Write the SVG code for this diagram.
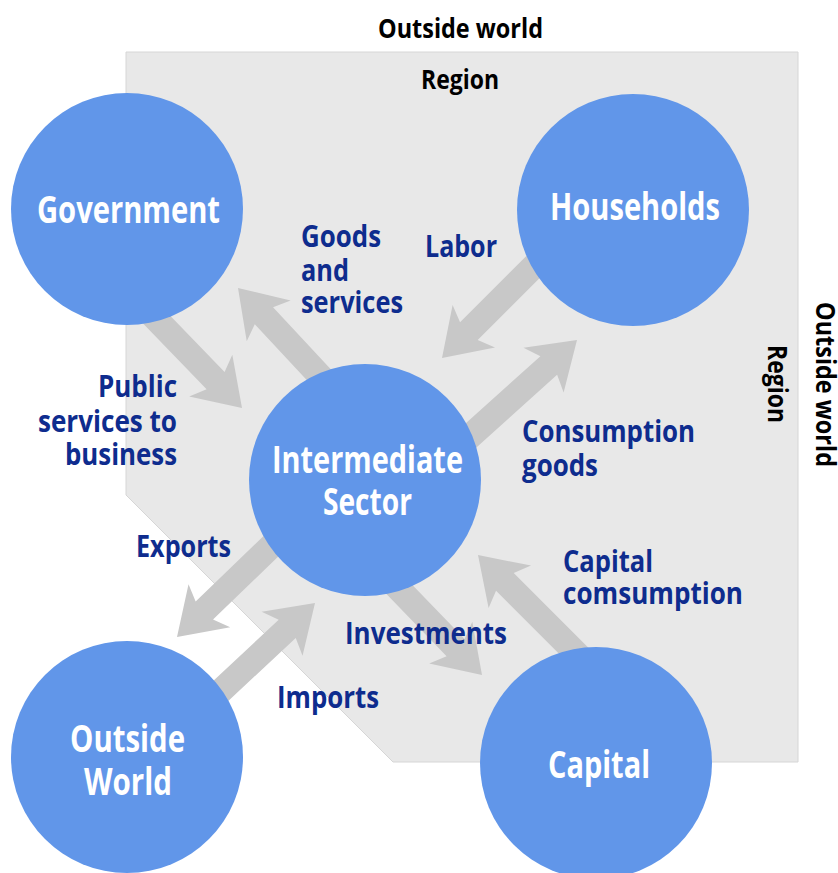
<svg xmlns="http://www.w3.org/2000/svg" width="838" height="873" viewBox="0 0 838 873">
<style>
.region{fill:#e8e8e8;stroke:#d6d6d6;stroke-width:1}
.arrow{fill:#c8c8c8}
.node{fill:#6196e9}
.nt{font-family:"Open Sans","Liberation Sans",sans-serif;font-weight:700;font-size:37px;fill:#ffffff}
.lb{font-family:"Open Sans","Liberation Sans",sans-serif;font-weight:700;font-size:30px;fill:#0e2c8e}
.hd{font-family:"Open Sans","Liberation Sans",sans-serif;font-weight:700;font-size:26px;fill:#000000}
</style>
<defs>
<polygon id="arr" points="0,0 -45,-30 -38,-12.5 -150,-12.5 -150,12.5 -38,12.5 -45,30"/>
</defs>
<rect x="0" y="0" width="838" height="873" fill="#ffffff"/>
<g id="region">
<polygon class="region" points="126,52 798,52 798,762 393,762 126,495"/>
<text class="hd" x="378" y="38" textLength="165" lengthAdjust="spacingAndGlyphs">Outside world</text>
<text class="hd" x="421" y="89" textLength="78" lengthAdjust="spacingAndGlyphs">Region</text>
<text class="hd" transform="translate(816,302) rotate(90)" x="0" y="0" textLength="165" lengthAdjust="spacingAndGlyphs">Outside world</text>
<text class="hd" transform="translate(768,345) rotate(90)" x="0" y="0" textLength="78" lengthAdjust="spacingAndGlyphs">Region</text>
</g>
<g id="connectors">
<use href="#arr" class="arrow" transform="translate(242,408) rotate(46)"/>
<use href="#arr" class="arrow" transform="translate(238,288) rotate(227)"/>
<use href="#arr" class="arrow" transform="translate(442,358) rotate(135)"/>
<use href="#arr" class="arrow" transform="translate(577,340) rotate(-42)"/>
<use href="#arr" class="arrow" transform="translate(177,637) rotate(136)"/>
<use href="#arr" class="arrow" transform="translate(315,603) rotate(-43)"/>
<use href="#arr" class="arrow" transform="translate(482,675) rotate(46)"/>
<use href="#arr" class="arrow" transform="translate(478,555) rotate(225)"/>
<text class="lb" x="301" y="247" textLength="80" lengthAdjust="spacingAndGlyphs">Goods</text>
<text class="lb" x="301" y="281" textLength="48" lengthAdjust="spacingAndGlyphs">and</text>
<text class="lb" x="301" y="313" textLength="102" lengthAdjust="spacingAndGlyphs">services</text>
<text class="lb" x="425" y="257" textLength="72" lengthAdjust="spacingAndGlyphs">Labor</text>
<text class="lb" x="98" y="397" textLength="79" lengthAdjust="spacingAndGlyphs">Public</text>
<text class="lb" x="38" y="432" textLength="139" lengthAdjust="spacingAndGlyphs">services to</text>
<text class="lb" x="65" y="465" textLength="112" lengthAdjust="spacingAndGlyphs">business</text>
<text class="lb" x="522" y="442" textLength="173" lengthAdjust="spacingAndGlyphs">Consumption</text>
<text class="lb" x="522" y="476" textLength="76" lengthAdjust="spacingAndGlyphs">goods</text>
<text class="lb" x="136" y="557" textLength="95" lengthAdjust="spacingAndGlyphs">Exports</text>
<text class="lb" x="277" y="708" textLength="102" lengthAdjust="spacingAndGlyphs">Imports</text>
<text class="lb" x="345" y="644" textLength="162" lengthAdjust="spacingAndGlyphs">Investments</text>
<text class="lb" x="563" y="572" textLength="90" lengthAdjust="spacingAndGlyphs">Capital</text>
<text class="lb" x="563" y="604" textLength="180" lengthAdjust="spacingAndGlyphs">comsumption</text>
</g>
<g id="government">
<circle class="node" cx="127" cy="209" r="116"/>
<text class="nt" x="37" y="223" textLength="183" lengthAdjust="spacingAndGlyphs">Government</text>
</g>
<g id="households">
<circle class="node" cx="633" cy="210" r="116"/>
<text class="nt" x="550" y="220" textLength="170" lengthAdjust="spacingAndGlyphs">Households</text>
</g>
<g id="intermediate">
<circle class="node" cx="365" cy="480" r="116"/>
<text class="nt" x="272" y="473" textLength="191" lengthAdjust="spacingAndGlyphs">Intermediate</text>
<text class="nt" x="323" y="515" textLength="89" lengthAdjust="spacingAndGlyphs">Sector</text>
</g>
<g id="outside-world">
<circle class="node" cx="127" cy="757" r="116"/>
<text class="nt" x="70" y="752" textLength="115" lengthAdjust="spacingAndGlyphs">Outside</text>
<text class="nt" x="84" y="795" textLength="88" lengthAdjust="spacingAndGlyphs">World</text>
</g>
<g id="capital">
<circle class="node" cx="596" cy="763" r="116"/>
<text class="nt" x="548" y="778" textLength="102" lengthAdjust="spacingAndGlyphs">Capital</text>
</g>
</svg>
